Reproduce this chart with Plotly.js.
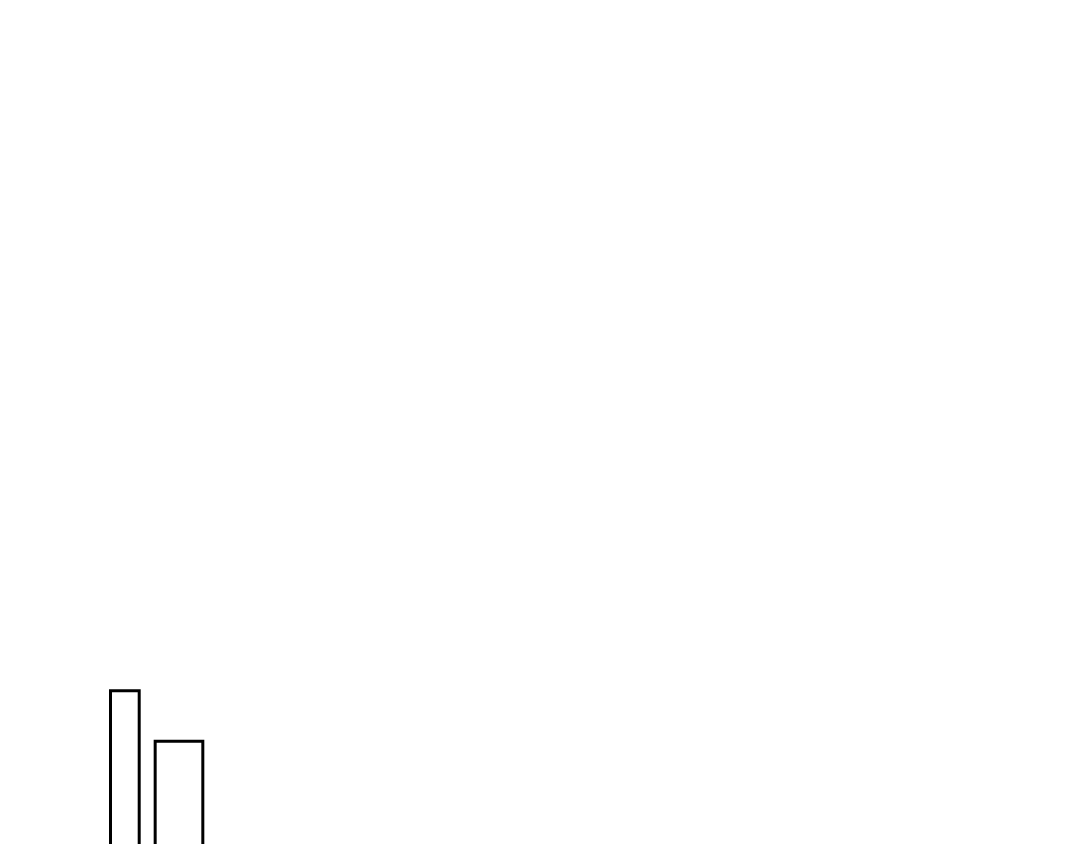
<!DOCTYPE html>
<html>
<head>
<meta charset="utf-8">
<script src="https://cdn.plot.ly/plotly-3.0.1.min.js"></script>
<style>
  html, body { margin: 0; padding: 0; background: #ffffff; }
  #chart { width: 1080px; height: 844px; }
</style>
</head>
<body>
<div id="chart"></div>
<script>
// Data
const categories = ["A", "B"];
const values = [51.8, 44.6];

const trace = {
  type: "bar",
  x: categories,
  y: values,
  width: [0.53, 0.88],
  marker: {
    color: "#ffffff",
    line: { color: "#000000", width: 3 }
  },
  hoverinfo: "none"
};

const layout = {
  width: 1080,
  height: 844,
  margin: { l: 0, r: 0, t: 0, b: 0, pad: 0 },
  paper_bgcolor: "#ffffff",
  plot_bgcolor: "#ffffff",
  showlegend: false,
  xaxis: { type: "category", range: [-2.3056, 17.639], visible: false, fixedrange: true },
  yaxis: { range: [30, 150], visible: false, fixedrange: true }
};

Plotly.newPlot("chart", [trace], layout, { displayModeBar: false, staticPlot: true });
</script>
</body>
</html>
